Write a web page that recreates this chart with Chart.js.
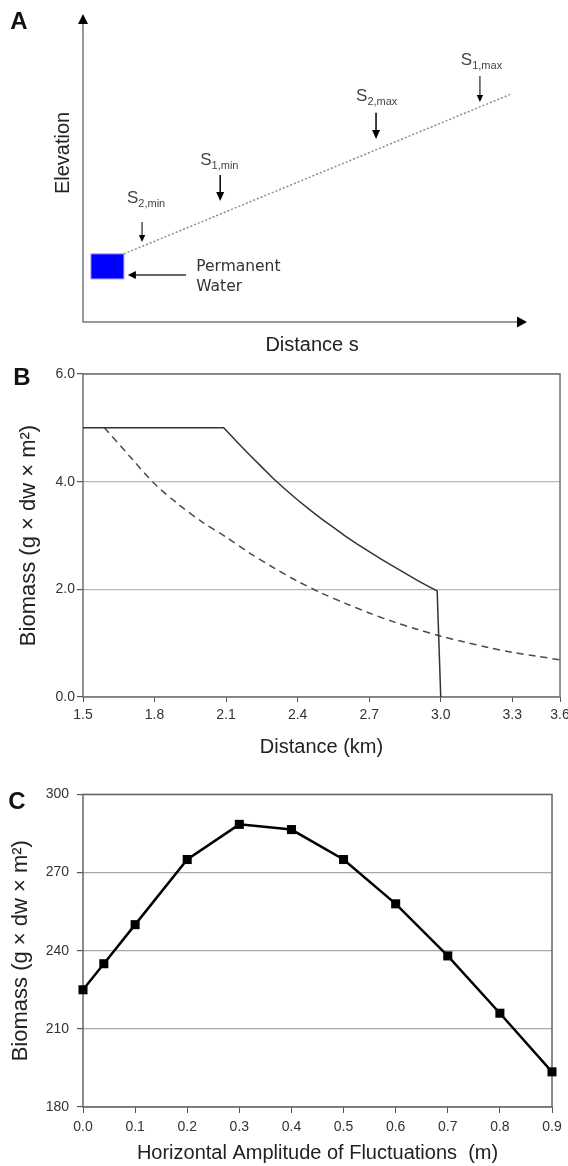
<!DOCTYPE html>
<html>
<head>
<meta charset="utf-8">
<script src="https://cdn.jsdelivr.net/npm/chart.js@4.4.1/dist/chart.umd.min.js"></script>
<style>
  html, body { margin: 0; padding: 0; background: #fff; }
  body { width: 568px; height: 1166px; position: relative; overflow: hidden; }
  canvas { position: absolute; left: 0; }
  #chartA { top: 0; }
  #chartB { top: 358px; }
  #chartC { top: 778px; }
</style>
</head>
<body>
<canvas id="chartA" width="568" height="358"></canvas>
<canvas id="chartB" width="568" height="410"></canvas>
<canvas id="chartC" width="568" height="388"></canvas>
<script>
// ---- Panel A: schematic (abstract 0-100 units on both axes) ----
const slopeX = [9.2, 96.4];
const slopeY = [22.1, 74.0];
const waterBox = [1.8, 9.2, 14.0, 22.1]; // x0, x1, y0, y1
const markerSubs = ['2,min', '1,min', '2,max', '1,max'];
const markerX = [13.3, 30.9, 66.0, 89.4];
const markerFrom = [32.5, 47.7, 67.9, 79.9];
const markerTo = [26.0, 39.3, 59.4, 71.4];
const markerLabelX = [9.9, 26.4, 61.5, 85.1];
const markerLabelY = [38.6, 51.0, 71.8, 83.4];

// ---- Panel B: biomass along the distance gradient ----
const distSolid = [1.5, 2.09, 2.15, 2.2, 2.25, 2.3, 2.35, 2.4, 2.45, 2.5, 2.55, 2.6, 2.65, 2.7, 2.75, 2.8, 2.85, 2.9, 2.95, 2.985, 3.0];
const biomassSolid = [5.0, 5.0, 4.72, 4.49, 4.27, 4.05, 3.85, 3.66, 3.48, 3.31, 3.15, 2.99, 2.84, 2.70, 2.56, 2.43, 2.30, 2.17, 2.05, 1.97, 0];
const distDash = [1.59, 1.7, 1.8, 1.9, 2.0, 2.1, 2.2, 2.3, 2.4, 2.5, 2.6, 2.7, 2.8, 2.9, 3.0, 3.1, 3.2, 3.3, 3.4, 3.5];
const biomassDash = [5.0, 4.45, 3.96, 3.58, 3.25, 2.97, 2.67, 2.40, 2.15, 1.93, 1.74, 1.56, 1.40, 1.26, 1.13, 1.02, 0.92, 0.83, 0.76, 0.69];
const distTicks = [1.5, 1.8, 2.1, 2.4, 2.7, 3.0, 3.3, 3.5];
const distTickLabels = ['1.5', '1.8', '2.1', '2.4', '2.7', '3.0', '3.3', '3.6'];

// ---- Panel C: biomass vs fluctuation amplitude ----
const amplitude = [0.0, 0.04, 0.1, 0.2, 0.3, 0.4, 0.5, 0.6, 0.7, 0.8, 0.9];
const biomassC = [225, 235, 250, 275, 288.5, 286.5, 275, 258, 238, 216, 193.5];
const ampTicks = [0, 0.1, 0.2, 0.3, 0.4, 0.5, 0.6, 0.7, 0.8, 0.9];

const SANS = '"Liberation Sans", Arial, sans-serif';
Chart.defaults.font.family = SANS;
Chart.defaults.color = '#333';
Chart.defaults.animation = false;

const yTitle = 'Biomass (g \u00d7 dw \u00d7 m\u00b2)';

function arrow(ctx, x1, y1, x2, y2, head, half, lw) {
    const a = Math.atan2(y2 - y1, x2 - x1);
    const c = Math.cos(a), s = Math.sin(a);
    ctx.lineWidth = lw;
    ctx.beginPath();
    ctx.moveTo(x1, y1);
    ctx.lineTo(x2 - c * head * 0.7, y2 - s * head * 0.7);
    ctx.stroke();
    ctx.beginPath();
    ctx.moveTo(x2, y2);
    ctx.lineTo(x2 - head * c + half * s, y2 - head * s - half * c);
    ctx.lineTo(x2 - head * c - half * s, y2 - head * s + half * c);
    ctx.closePath();
    ctx.fill();
}

const schematic = {
    id: 'schematic',
    afterDatasetsDraw(chart) {
        const {ctx, chartArea: a, scales: {x, y}} = chart;
        ctx.save();
        // axes with arrow heads
        ctx.strokeStyle = '#7a7a7a';
        ctx.fillStyle = '#000';
        ctx.lineWidth = 1.5;
        ctx.beginPath();
        ctx.moveTo(a.left, a.top + 8);
        ctx.lineTo(a.left, a.bottom);
        ctx.lineTo(a.right - 8, a.bottom);
        ctx.stroke();
        arrow(ctx, a.left, a.top + 12, a.left, a.top, 10, 5, 0.1);
        arrow(ctx, a.right - 12, a.bottom, a.right, a.bottom, 10, 5.5, 0.1);

        // permanent water box
        const bx0 = x.getPixelForValue(waterBox[0]), bx1 = x.getPixelForValue(waterBox[1]);
        const by0 = y.getPixelForValue(waterBox[2]), by1 = y.getPixelForValue(waterBox[3]);
        ctx.fillStyle = '#0000ff';
        ctx.fillRect(bx0, by1, bx1 - bx0, by0 - by1);
        ctx.strokeStyle = '#8a8aff';
        ctx.lineWidth = 1;
        ctx.strokeRect(bx0, by1, bx1 - bx0, by0 - by1);

        // arrow pointing at the water
        ctx.strokeStyle = '#333';
        ctx.fillStyle = '#000';
        const wy = y.getPixelForValue(15.3);
        arrow(ctx, x.getPixelForValue(23.2), wy, x.getPixelForValue(10.1), wy, 8, 4, 1.5);
        ctx.fillStyle = '#333';
        ctx.font = '15.5px "DejaVu Sans", sans-serif';
        ctx.textBaseline = 'middle';
        ctx.textAlign = 'left';
        ctx.fillText('Permanent', x.getPixelForValue(25.5), y.getPixelForValue(17.9));
        ctx.fillText('Water', x.getPixelForValue(25.5), y.getPixelForValue(11.4));

        // S markers
        markerSubs.forEach((sub, i) => {
            const px = x.getPixelForValue(markerX[i]);
            ctx.strokeStyle = '#111';
            ctx.fillStyle = '#000';
            const thick = i === 1 || i === 2;
            arrow(ctx, px, y.getPixelForValue(markerFrom[i]), px, y.getPixelForValue(markerTo[i]),
                thick ? 9 : 7, thick ? 4 : 3.2, thick ? 1.6 : 1.1);
            const lx = x.getPixelForValue(markerLabelX[i]);
            const ly = y.getPixelForValue(markerLabelY[i]);
            ctx.fillStyle = '#444';
            ctx.textBaseline = 'alphabetic';
            ctx.font = '17px ' + SANS;
            ctx.fillText('S', lx, ly);
            const w = ctx.measureText('S').width;
            ctx.font = '11px ' + SANS;
            ctx.fillText(sub, lx + w, ly + 4);
        });

        // axis names and panel letter
        ctx.fillStyle = '#222';
        ctx.font = '20px ' + SANS;
        ctx.textAlign = 'center';
        ctx.textBaseline = 'middle';
        ctx.fillText('Distance s', x.getPixelForValue(51.6), y.getPixelForValue(-7.5));
        ctx.save();
        ctx.translate(x.getPixelForValue(-4.5), y.getPixelForValue(54.9));
        ctx.rotate(-Math.PI / 2);
        ctx.fillText('Elevation', 0, 0);
        ctx.restore();
        ctx.font = 'bold 24px ' + SANS;
        ctx.fillStyle = '#111';
        ctx.fillText('A', 19, 22);
        ctx.restore();
    }
};

const frame = {
    id: 'frame',
    beforeDatasetsDraw(chart, args, opts) {
        const {ctx, chartArea: a} = chart;
        ctx.save();
        ctx.strokeStyle = opts.color || '#707070';
        ctx.lineWidth = 1.5;
        ctx.strokeRect(a.left, a.top, a.right - a.left, a.bottom - a.top);
        ctx.restore();
    },
    afterDraw(chart, args, opts) {
        if (!opts.letter) return;
        const {ctx} = chart;
        ctx.save();
        ctx.font = 'bold 24px ' + SANS;
        ctx.fillStyle = '#111';
        ctx.textAlign = 'center';
        ctx.textBaseline = 'middle';
        ctx.fillText(opts.letter, opts.lx, opts.ly);
        ctx.restore();
    }
};

new Chart(document.getElementById('chartA'), {
    type: 'scatter',
    data: {
        datasets: [{
            data: slopeX.map((v, i) => ({x: v, y: slopeY[i]})),
            showLine: true,
            borderColor: '#8c8c8c',
            borderWidth: 1.5,
            borderDash: [2, 2],
            pointRadius: 0
        }]
    },
    options: {
        responsive: false,
        layout: { padding: { left: 83, right: 41, top: 14, bottom: 36 } },
        plugins: { legend: { display: false }, tooltip: { enabled: false } },
        scales: {
            x: { type: 'linear', min: 0, max: 100, display: false },
            y: { type: 'linear', min: 0, max: 100, display: false }
        }
    },
    plugins: [schematic]
});

new Chart(document.getElementById('chartB'), {
    type: 'scatter',
    data: {
        datasets: [{
            data: distSolid.map((v, i) => ({x: v, y: biomassSolid[i]})),
            showLine: true,
            borderColor: '#333',
            borderWidth: 1.5,
            pointRadius: 0
        }, {
            data: distDash.map((v, i) => ({x: v, y: biomassDash[i]})),
            showLine: true,
            tension: 0.3,
            borderColor: '#4a4a4a',
            borderWidth: 1.5,
            borderDash: [7, 5],
            pointRadius: 0
        }]
    },
    options: {
        responsive: false,
        layout: { padding: { left: 0, right: 8, top: 16, bottom: 0 } },
        plugins: {
            legend: { display: false },
            tooltip: { enabled: false },
            frame: { letter: 'B', lx: 22, ly: 20 }
        },
        scales: {
            x: {
                type: 'linear', min: 1.5, max: 3.5,
                afterBuildTicks: s => { s.ticks = distTicks.map(v => ({value: v})); },
                afterFit: s => { s.height = 71; s.paddingLeft = 0; s.paddingRight = 0; },
                ticks: { font: { size: 14 }, padding: 5, maxRotation: 0, autoSkip: false,
                    callback: (v, i) => distTickLabels[i] },
                grid: { drawOnChartArea: false, tickLength: 5, tickColor: '#555' },
                border: { display: false },
                title: { display: true, text: 'Distance (km)', color: '#222',
                    font: { size: 20 }, padding: { top: 0, bottom: 9 } }
            },
            y: {
                min: 0, max: 6,
                afterBuildTicks: s => { s.ticks = [0, 2, 4, 6].map(v => ({value: v})); },
                afterFit: s => { s.width = 83; },
                ticks: { font: { size: 14 }, padding: 2, callback: v => v.toFixed(1) },
                grid: { color: '#b8b8b8', lineWidth: 1.2, tickLength: 6, tickColor: '#555' },
                border: { display: false },
                title: { display: true, text: yTitle, color: '#222',
                    font: { size: 22 }, padding: { top: 16, bottom: 0 } }
            }
        }
    },
    plugins: [frame]
});

new Chart(document.getElementById('chartC'), {
    type: 'line',
    data: {
        datasets: [{
            data: amplitude.map((v, i) => ({x: v, y: biomassC[i]})),
            borderColor: '#000',
            borderWidth: 2.5,
            pointStyle: 'rect',
            pointRadius: 6.4,
            pointBackgroundColor: '#000',
            pointBorderColor: '#000',
            pointBorderWidth: 0,
            clip: false
        }]
    },
    options: {
        responsive: false,
        layout: { padding: { left: 0, right: 16, top: 15, bottom: 0 } },
        plugins: {
            legend: { display: false },
            tooltip: { enabled: false },
            frame: { letter: 'C', lx: 17, ly: 24, color: '#666' }
        },
        scales: {
            x: {
                type: 'linear', min: 0, max: 0.9,
                afterBuildTicks: s => { s.ticks = ampTicks.map(v => ({value: v})); },
                afterFit: s => { s.height = 59; s.paddingLeft = 0; s.paddingRight = 0; },
                ticks: { font: { size: 14 }, padding: 6, maxRotation: 0, autoSkip: false,
                    callback: v => v.toFixed(1) },
                grid: { drawOnChartArea: false, tickLength: 6, tickColor: '#555' },
                border: { display: false },
                title: { display: true, text: 'Horizontal Amplitude of Fluctuations  (m)', color: '#222',
                    font: { size: 20 }, padding: { top: 0, bottom: 1 } }
            },
            y: {
                min: 180, max: 300,
                afterBuildTicks: s => { s.ticks = [180, 210, 240, 270, 300].map(v => ({value: v})); },
                afterFit: s => { s.width = 83; },
                ticks: { font: { size: 14 }, padding: 8 },
                grid: { color: '#a8a8a8', lineWidth: 1.2, tickLength: 6, tickColor: '#555' },
                border: { display: false },
                title: { display: true, text: yTitle, color: '#222',
                    font: { size: 22 }, padding: { top: 8, bottom: 0 } }
            }
        }
    },
    plugins: [frame]
});
</script>
</body>
</html>
